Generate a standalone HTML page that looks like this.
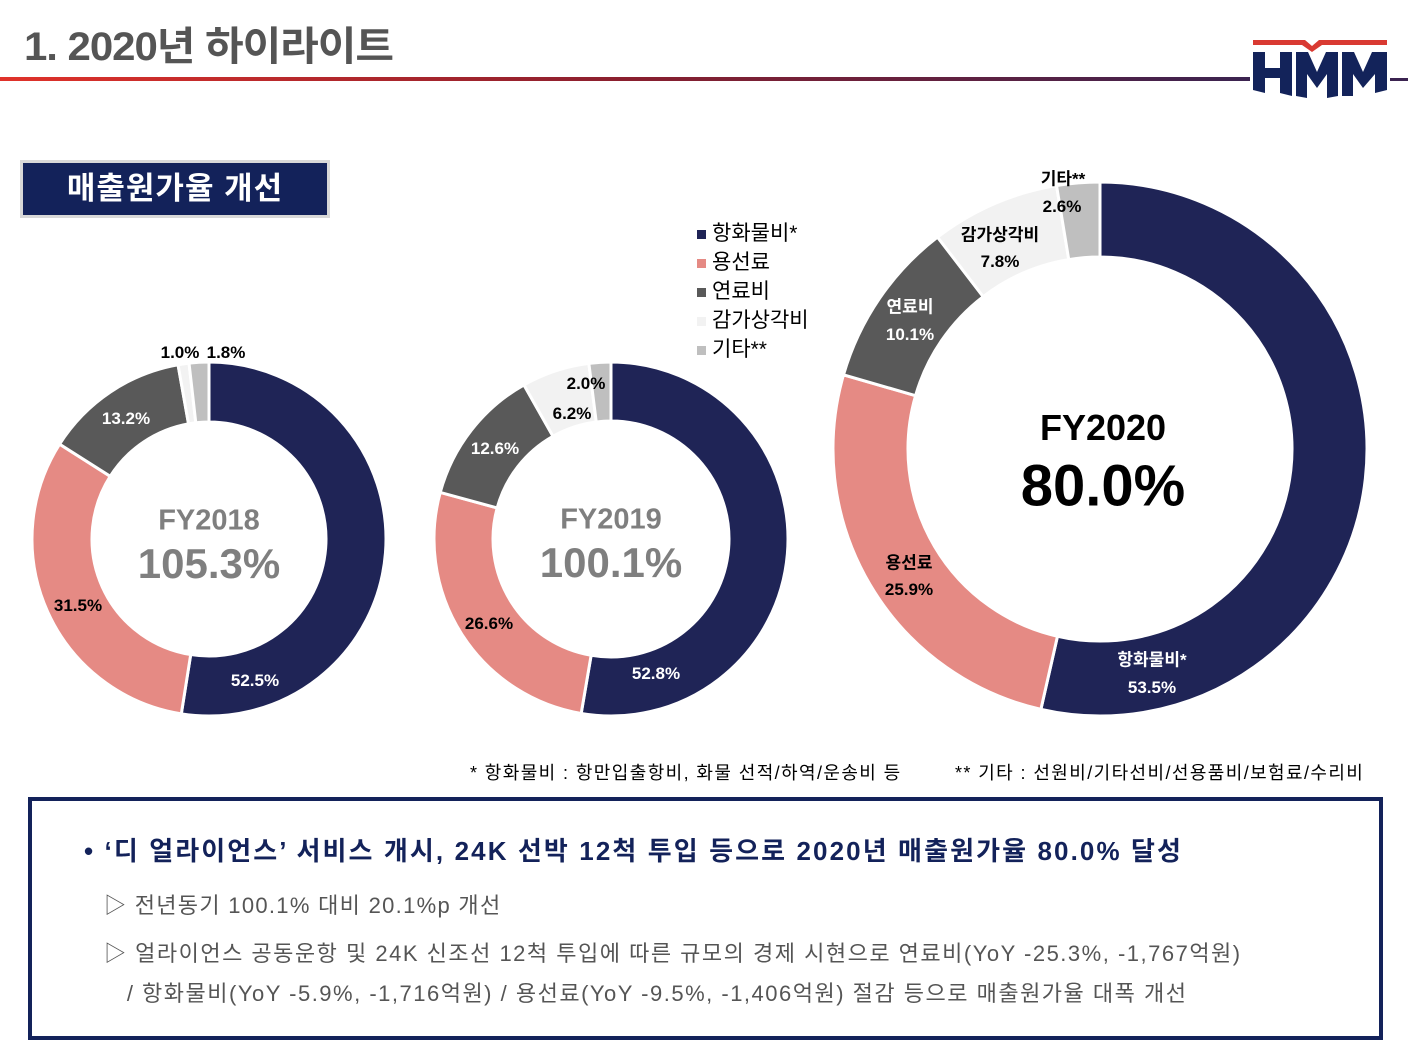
<!DOCTYPE html>
<html><head><meta charset="utf-8">
<style>
body{margin:0;width:1408px;height:1050px;background:#fff;position:relative;overflow:hidden;font-family:"Liberation Sans","Noto Sans CJK KR",sans-serif;}
.abs{position:absolute;white-space:nowrap;}
.lbl{position:absolute;font-weight:bold;font-size:17px;transform:translate(-50%,-50%);white-space:nowrap;}
.w{color:#fff}.k{color:#000}
</style></head><body>
<div class="abs" style="left:24px;top:14px;font-size:40px;font-weight:bold;color:#555;letter-spacing:-1px;transform:scaleX(1.05);transform-origin:left;">1. 2020년 하이라이트</div>
<div class="abs" style="left:0;top:77px;width:1250px;height:4px;background:linear-gradient(90deg,#e0322a,#8a1f2e 50%,#3b2350);"></div>
<div class="abs" style="left:1390px;top:78px;width:18px;height:3px;background:#3b2350;"></div>
<svg class="abs" style="left:1250px;top:38px" width="140" height="64" viewBox="0 0 140 64">
<polygon points="3,2 55,2 62,8 69,2 137,2 137,7 72,7 62,14 52,7 3,7" fill="#d93a32"/>
<polygon points="3,14 15,14 15,30 30,30 30,14 42,14 42,58 30,55 30,40 15,40 15,55 3,52" fill="#13235a"/>
<polygon points="46,14 58,14 67,34 76,14 88,14 88,58 77,60 77,36 67,50 57,36 57,60 46,58" fill="#13235a"/>
<polygon points="92,14 104,14 113,34 122,14 137,14 137,52 125,55 125,36 113,50 103,36 103,58 92,58" fill="#13235a"/>
</svg>
<div class="abs" style="left:20px;top:160px;width:304px;height:52px;background:#13225a;border:3px solid #d8d8d8;color:#fff;font-size:31px;font-weight:bold;text-align:center;line-height:52px;letter-spacing:1px;">매출원가율 개선</div>

<svg id="chart" class="abs" style="left:0;top:0" width="1408" height="760"></svg>

<div>
<div class="abs" style="left:697px;top:217px;font-size:21px;"><span style="display:inline-block;width:9px;height:9px;background:#1f2456;margin-right:6px;vertical-align:middle"></span>항화물비*</div>
<div class="abs" style="left:697px;top:246px;font-size:21px;"><span style="display:inline-block;width:9px;height:9px;background:#e58a84;margin-right:6px;vertical-align:middle"></span>용선료</div>
<div class="abs" style="left:697px;top:275px;font-size:21px;"><span style="display:inline-block;width:9px;height:9px;background:#595959;margin-right:6px;vertical-align:middle"></span>연료비</div>
<div class="abs" style="left:697px;top:304px;font-size:21px;"><span style="display:inline-block;width:9px;height:9px;background:#f2f2f2;margin-right:6px;vertical-align:middle"></span>감가상각비</div>
<div class="abs" style="left:697px;top:333px;font-size:21px;"><span style="display:inline-block;width:9px;height:9px;background:#bfbfbf;margin-right:6px;vertical-align:middle"></span>기타**</div>
</div>

<!-- FY2018 labels -->
<div class="lbl k" style="left:180px;top:353px">1.0%</div>
<div class="lbl k" style="left:226px;top:353px">1.8%</div>
<div class="lbl w" style="left:126px;top:419px">13.2%</div>
<div class="lbl k" style="left:78px;top:606px">31.5%</div>
<div class="lbl w" style="left:255px;top:681px">52.5%</div>
<div class="lbl" style="left:209px;top:521px;font-size:29px;color:#7f7f7f">FY2018</div>
<div class="lbl" style="left:209px;top:564px;font-size:42px;color:#7f7f7f">105.3%</div>
<!-- FY2019 labels -->
<div class="lbl k" style="left:586px;top:384px">2.0%</div>
<div class="lbl k" style="left:572px;top:414px">6.2%</div>
<div class="lbl w" style="left:495px;top:449px">12.6%</div>
<div class="lbl k" style="left:489px;top:624px">26.6%</div>
<div class="lbl w" style="left:656px;top:674px">52.8%</div>
<div class="lbl" style="left:611px;top:520px;font-size:29px;color:#7f7f7f">FY2019</div>
<div class="lbl" style="left:611px;top:563px;font-size:42px;color:#7f7f7f">100.1%</div>
<!-- FY2020 labels -->
<div class="lbl k" style="left:1063px;top:177px">기타**</div>
<div class="lbl k" style="left:1062px;top:207px">2.6%</div>
<div class="lbl k" style="left:1000px;top:233px">감가상각비</div>
<div class="lbl k" style="left:1000px;top:262px">7.8%</div>
<div class="lbl w" style="left:910px;top:305px">연료비</div>
<div class="lbl w" style="left:910px;top:335px">10.1%</div>
<div class="lbl k" style="left:909px;top:561px">용선료</div>
<div class="lbl k" style="left:909px;top:590px">25.9%</div>
<div class="lbl w" style="left:1152px;top:658px">항화물비*</div>
<div class="lbl w" style="left:1152px;top:688px">53.5%</div>
<div class="lbl" style="left:1103px;top:428px;font-size:36px;color:#000">FY2020</div>
<div class="lbl" style="left:1103px;top:486px;font-size:58px;color:#000">80.0%</div>

<div class="abs" style="left:470px;top:759px;font-size:18px;letter-spacing:1.4px;">* 항화물비 : 항만입출항비, 화물 선적/하역/운송비 등</div>
<div class="abs" style="left:955px;top:759px;font-size:18px;letter-spacing:1.4px;">** 기타 : 선원비/기타선비/선용품비/보험료/수리비</div>

<div class="abs" style="left:28px;top:797px;width:1347px;height:235px;border:4px solid #13225a;">
<div class="abs" style="left:52px;top:30px;font-size:26px;font-weight:bold;color:#13225a;letter-spacing:2.1px;">• ‘디 얼라이언스’ 서비스 개시, 24K 선박 12척 투입 등으로 2020년 매출원가율 80.0% 달성</div>
<div class="abs" style="left:72px;top:87px;font-size:22px;color:#555;letter-spacing:1.3px;">▷ 전년동기 100.1% 대비 20.1%p 개선</div>
<div class="abs" style="left:72px;top:133px;font-size:22px;color:#555;line-height:40px;letter-spacing:1.5px;">▷ 얼라이언스 공동운항 및 24K 신조선 12척 투입에 따른 규모의 경제 시현으로 연료비(YoY -25.3%, -1,767억원)<br>&nbsp;&nbsp;&nbsp;/ 항화물비(YoY -5.9%, -1,716억원) / 용선료(YoY -9.5%, -1,406억원) 절감 등으로 매출원가율 대폭 개선</div>
</div>

<script>
const categories=["항화물비","용선료","연료비","감가상각비","기타"];
const colors=["#1f2456","#e58a84","#595959","#f2f2f2","#bfbfbf"];
const fy2018=[52.5,31.5,13.2,1.0,1.8];
const fy2019=[52.8,26.6,12.6,6.2,2.0];
const fy2020=[53.5,25.9,10.1,7.8,2.6];
const svg=document.getElementById('chart');
const NS='http://www.w3.org/2000/svg';
function pt(cx,cy,r,a){return [cx+r*Math.sin(a),cy-r*Math.cos(a)];}
function donut(vals,cx,cy,ro,ri,name){
  const tot=vals.reduce((a,b)=>a+b,0);
  let acc=0;
  vals.forEach((v,i)=>{
    const a0=acc/tot*2*Math.PI; acc+=v; const a1=acc/tot*2*Math.PI;
    const big=(a1-a0)>Math.PI?1:0;
    const [x0,y0]=pt(cx,cy,ro,a0),[x1,y1]=pt(cx,cy,ro,a1),[x2,y2]=pt(cx,cy,ri,a1),[x3,y3]=pt(cx,cy,ri,a0);
    const p=document.createElementNS(NS,'path');
    p.setAttribute('d',`M${x0},${y0}A${ro},${ro} 0 ${big} 1 ${x1},${y1}L${x2},${y2}A${ri},${ri} 0 ${big} 0 ${x3},${y3}Z`);
    p.setAttribute('fill',colors[i]);p.setAttribute('stroke','#fff');p.setAttribute('stroke-width','3');
    
    
    svg.appendChild(p);
  });
}
donut(fy2018,209,539,177,117,'fy2018');
donut(fy2019,611,539,177,118,'fy2019');
donut(fy2020,1100,449,267,192,'fy2020');
</script>
</body></html>
